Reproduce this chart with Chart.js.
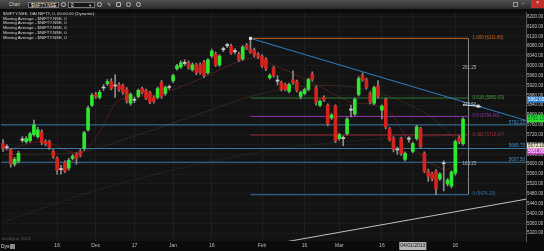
<!DOCTYPE html>
<html>
<head>
<meta charset="utf-8">
<script src="https://cdn.jsdelivr.net/npm/chart.js@4.4.1/dist/chart.umd.min.js"></script>
<style>
  html, body { margin: 0; padding: 0; width: 544px; height: 251px; overflow: hidden; background: #0b0b0b; font-family: "Liberation Sans", "DejaVu Sans", sans-serif; }
  #bar { position: absolute; left: 0; top: 0; width: 544px; height: 9px; background: linear-gradient(#505050, #2a2a2a); }
  #bar div, #bar span { position: absolute; font-size: 4.5px; line-height: 6px; color: #d0d0d0; }
  .box { top: 1.5px; height: 6px; background: #161616; border: 1px solid #777; box-sizing: border-box; padding-left: 2px; color: #fff !important; }
  .ico { top: 2px; width: 5px; height: 5px; border: 1px solid #bbb; border-radius: 50%; box-sizing: border-box; }
  #wrap { position: absolute; left: 0; top: 9px; width: 544px; height: 242px; }
  #legend { position: absolute; left: 3px; top: 12px; font-size: 4.3px; line-height: 4.7px; color: #d8d8d8; white-space: pre; }
  #dys { position: absolute; left: 1px; top: 243px; font-size: 5px; line-height: 7px; color: #ddd; }
  #dysbox { position: absolute; left: 10px; top: 244px; width: 5px; height: 5px; background: #8a8a8a; }
  #mark { position: absolute; left: 2px; top: 236px; font-size: 4px; color: #5a5a5a; }
</style>
</head>
<body>
<div id="bar">
  <span style="left:9px;top:1.5px">Chart</span>
  <div class="box" style="left:28px;width:31px">$NIFTY.NSE</div>
  <div class="ico" style="left:61px"></div>
  <div class="box" style="left:68px;width:27px">0 <span style="left:20px;top:0">▾</span></div>
  <div class="ico" style="left:97px"></div>
  <span style="left:107px;top:1.5px">✎</span>
  <div class="ico" style="left:116px;border-radius:1px"></div>
  <div class="ico" style="left:126px"></div>
  <div class="ico" style="left:136px"></div>
  <div style="left:513px;top:2px;width:5px;height:5px;border:1px solid #999;box-sizing:border-box"></div>
  <span style="left:522px;top:1px">–</span>
  <div style="left:531px;top:0;width:13px;height:8px;background:#c0302a;color:#fff;text-align:center">×</div>
</div>
<div id="wrap"><canvas id="c" width="544" height="242"></canvas></div>
<div id="legend">$NIFTY.NSE, DAI NIFTY, 0, 00:00:00 (Dynamic)
Moving Average - $NIFTY.NSE, 0
Moving Average - $NIFTY.NSE, 0
Moving Average - $NIFTY.NSE, 0
Moving Average - $NIFTY.NSE, 0
Moving Average - $NIFTY.NSE, 0</div>
<div id="mark">Intelligent, 2013</div>
<div id="dys">Dys</div>
<div id="dysbox"></div>
<script>
// daily candles
var opens  = [5684,5668,5660,5600,5612,5700,5692,5696,5720,5712,5732,5692,5692,5652,5624,5580,5608,5584,5624,5640,
              5652,5664,5740,5840,5884,5872,5912,5928,5936,5920,5924,5920,5904,5848,5862,5876,5908,5900,5892,5872,
              5872,5932,5888,5912,5940,5988,5996,6012,6012,5984,6004,6004,6016,5972,6040,6048,6004,6068,6084,6080,
              6060,6048,6028,6084,6068,6064,6048,6040,6028,5952,5992,5940,5932,5924,5896,5944,5936,5876,5888,5904,
              5968,5912,5840,5872,5840,5788,5836,5704,5704,5724,5820,5804,5884,5960,5944,5888,5848,5920,5820,5864,
              5744,5704,5660,5704,5620,5704,5652,5704,5744,5644,5572,5560,5572,5540,5604,5520,5512,5564,5708,5684];
var highs  = [5700,5680,5664,5628,5652,5712,5712,5730,5780,5750,5740,5700,5698,5660,5630,5596,5614,5624,5640,5646,
              5660,5734,5836,5888,5892,5900,5924,5944,5948,5964,5932,5926,5912,5890,5872,5906,5914,5906,5896,5878,
              5914,5940,5918,5922,5966,6006,6020,6024,6020,6012,6010,6012,6022,6030,6068,6056,6046,6076,6092,6088,
              6070,6056,6082,6092,6111.8,6072,6054,6046,6034,5968,5998,5960,5938,5930,5930,5980,5942,5898,5910,5950,
              5976,5918,5862,5878,5846,5806,5842,5726,5714,5790,5840,5870,5956,5972,5950,5894,5918,5940,5842,5870,
              5750,5712,5670,5710,5650,5712,5690,5758,5750,5650,5580,5568,5578,5566,5614,5542,5574,5698,5716,5790];
var lows   = [5652,5660,5588,5592,5604,5690,5686,5690,5714,5706,5680,5676,5660,5624,5560,5560,5566,5576,5618,5600,
              5630,5656,5734,5834,5868,5866,5900,5920,5902,5872,5896,5884,5848,5840,5850,5870,5886,5862,5846,5848,
              5866,5868,5880,5904,5932,5982,5990,6002,5986,5978,5964,5966,5952,5966,6034,5998,5998,6058,6074,6046,
              6048,6018,6022,6066,6050,6036,6030,5994,5980,5946,5954,5922,5898,5898,5890,5924,5894,5866,5882,5898,
              5938,5840,5834,5854,5756,5782,5688,5698,5676,5718,5792,5798,5878,5938,5906,5846,5842,5870,5784,5744,
              5694,5650,5640,5636,5614,5690,5646,5698,5664,5566,5530,5532,5476.2,5534,5492,5512,5504,5556,5684,5678];
var closes = [5664,5670,5600,5620,5644,5698,5704,5724,5760,5740,5688,5684,5668,5632,5576,5578,5572,5616,5632,5624,
              5636,5728,5828,5880,5876,5892,5910,5936,5908,5918,5904,5892,5856,5884,5860,5900,5892,5868,5852,5856,
              5908,5876,5912,5914,5960,6000,6012,6010,5992,6004,5972,5972,5960,6024,6060,6004,6040,6066,6082,6052,
              6058,6024,6076,6072,6056,6044,6036,6000,5988,5960,5960,5938,5904,5904,5924,5932,5900,5892,5904,5944,
              5944,5852,5856,5860,5764,5800,5696,5720,5706,5784,5822,5864,5948,5944,5912,5852,5912,5876,5836,5752,
              5700,5660,5658,5644,5644,5702,5684,5752,5672,5572,5552,5540,5500,5560,5602,5536,5568,5692,5692,5784];

// x axis (candle index) ticks
var xTickPos    = [14, 24, 34, 44, 54, 67, 78, 87, 98, 106, 117];
var xTickLabels = ['16', 'Dec', '17', 'Jan', '16', 'Feb', '16', 'Mar', '16', '04/01/2013', '16'];
var yTicks = [];
for (var t = 5320; t <= 6200; t += 40) yTicks.push(t);

// moving averages (sparse)
var ma1X = [0, 10, 20, 25, 30, 40, 50, 60, 65, 70, 80, 90, 95, 100, 105, 110, 115, 119];
var ma1Y = [5652, 5692, 5644, 5732, 5860, 5884, 5940, 6012, 6032, 6004, 5932, 5852, 5844, 5812, 5692, 5612, 5580, 5652];
var ma2X = [0, 20, 35, 50, 65, 80, 95, 110, 119];
var ma2Y = [5640, 5650, 5720, 5800, 5880, 5920, 5900, 5800, 5672];
var ma3X = [0, 22, 45, 70, 95, 119];
var ma3Y = [5364, 5484, 5580, 5660, 5700, 5720];

// drawn tools
var supportLevels = [5760, 5664, 5608];
var supportLabels = ['5762.25', '5665.75', '5607.50'];
var fibLevels = [6111.8, 5869.03, 5794.0, 5718.97, 5476.2];
var fibLabels = ['1.000 (6111.80)', '0.618 (5869.03)', '0.5 (5794.00)', '0.382 (5718.97)', '0 (5476.20)'];
var fibColors = ['#c8661e', '#2f7a2f', '#8a30a8', '#a02a3c', '#2f74b0'];
var fibStart = 64, fibEnd = 120.4;
var downTrendX = [64, 135.3], downTrendY = [6111.8, 5778];
var upTrendX = [71.5, 135.3], upTrendY = [5280, 5458];
var noteValues = [5992, 5840, 5600];
var noteLabels = ['261.25', '275.50', '163.25'];
var tagValues = [5862.6, 5789.8, 5783.1, 5673.1, 5651.8];
var tagLabels = ['5862.60', '5789.80', '5783.10', '5673.10', '5651.80'];
var tagColors = ['#2a7fd4', '#2ee02e', '#2ee02e', '#ece4c4', '#c845c8'];
var tagText   = ['#fff', '#063', '#063', '#222', '#fff'];

var idx = opens.map(function (o, i) { return i; });
var bodyColors = opens.map(function (o, i) {
  var d = closes[i] - o;
  if (Math.abs(d) <= 2) return '#d0d0d0';
  return d > 0 ? '#2ee82e' : '#d8221e';
});
function pts(xs, ys) { return xs.map(function (x, i) { return {x: x, y: ys[i]}; }); }
function lineDs(data, color, width, order) {
  return {type: 'line', data: data, borderColor: color, borderWidth: width || 1, pointRadius: 0, order: order || 5, tension: 0.3};
}

var datasets = [
  {type: 'bar', data: idx.map(function (i) { return {x: i, y: [opens[i], closes[i]]}; }),
   backgroundColor: bodyColors, barThickness: 3, minBarLength: 1, grouped: false, order: 0},
  {type: 'bar', data: idx.map(function (i) { return {x: i, y: [lows[i], highs[i]]}; }),
   backgroundColor: '#8c8c8c', barThickness: 1, grouped: false, order: 1},
  lineDs(pts(ma1X, ma1Y), 'rgba(110,40,40,0.6)', 1, 6),
  lineDs(pts(ma2X, ma2Y), 'rgba(90,70,40,0.4)', 1, 6),
  lineDs(pts(ma3X, ma3Y), 'rgba(60,70,60,0.3)', 1, 6)
];
supportLevels.forEach(function (v) {
  datasets.push(lineDs([{x: -1, y: v}, {x: 136, y: v}], '#3a7aa6', 1, 4));
});
fibLevels.forEach(function (v, k) {
  datasets.push(lineDs([{x: fibStart, y: v}, {x: fibEnd, y: v}], fibColors[k], 1, 4));
});
datasets.push(lineDs([{x: fibEnd, y: fibLevels[0]}, {x: fibEnd, y: fibLevels[4]}], '#8a8a8a', 1, 4));
datasets.push(lineDs(pts(downTrendX, downTrendY), '#2f80c8', 1, 3));
datasets.push(lineDs(pts(upTrendX, upTrendY), '#b8c4d0', 1, 3));

var decor = {
  id: 'decor',
  beforeDraw: function (chart) {
    var c = chart.ctx, a = chart.chartArea;
    c.save();
    c.fillStyle = '#0b0b0b';
    c.fillRect(0, 0, chart.width, chart.height);
    c.fillStyle = '#131313';
    c.fillRect(a.left, a.top, a.right - a.left, a.bottom - a.top);
    c.restore();
  },
  afterDatasetsDraw: function (chart) {
    var c = chart.ctx, x = chart.scales.x, y = chart.scales.y, a = chart.chartArea;
    c.save();
    c.font = '4.5px "Liberation Sans"';
    c.textBaseline = 'middle';
    c.textAlign = 'left';
    fibLevels.forEach(function (v, k) {
      c.fillStyle = fibColors[k] === '#2f7a2f' ? '#3fa43f' : fibColors[k];
      c.fillText(fibLabels[k], x.getPixelForValue(fibEnd) + 4, y.getPixelForValue(v) - 0.5);
    });
    c.fillStyle = '#b8b8b8';
    noteValues.forEach(function (v, k) {
      c.fillText(noteLabels[k], x.getPixelForValue(fibEnd) - 6, y.getPixelForValue(v));
    });
    c.textAlign = 'right';
    c.fillStyle = '#3f8fd0';
    supportLevels.forEach(function (v, k) {
      c.fillText(supportLabels[k], a.right - 1, y.getPixelForValue(v) - 2.5);
    });
    // tool handles
    c.fillStyle = '#e0e0e0';
    var hx = x.getPixelForValue(downTrendX[0]), hy = y.getPixelForValue(downTrendY[0]);
    c.fillRect(hx - 1.5, hy - 1.5, 3, 3);
    var t = (122.9 - downTrendX[0]) / (downTrendX[1] - downTrendX[0]);
    var mv = downTrendY[0] + t * (downTrendY[1] - downTrendY[0]);
    var mx = x.getPixelForValue(122.9), my = y.getPixelForValue(mv);
    c.strokeStyle = '#e0e0e0';
    c.beginPath();
    c.moveTo(x.getPixelForValue(119), my - 1.5);
    c.lineTo(mx + 3, my + 0.5);
    c.stroke();
    c.fillRect(mx - 1.5, my - 1.5, 3, 3);
    c.restore();
  },
  afterDraw: function (chart) {
    var c = chart.ctx, y = chart.scales.y, a = chart.chartArea;
    c.save();
    c.font = '4.5px "Liberation Sans"';
    c.textBaseline = 'middle';
    c.textAlign = 'left';
    tagValues.forEach(function (v, k) {
      var py = y.getPixelForValue(v);
      c.fillStyle = tagColors[k];
      c.fillRect(a.right + 1, py - 3, chart.width - a.right - 1, 6);
      c.fillStyle = tagText[k];
      c.fillText(tagLabels[k], a.right + 2, py);
    });
    c.restore();
  }
};

new Chart(document.getElementById('c'), {
  data: {datasets: datasets},
  options: {
    responsive: false,
    animation: false,
    devicePixelRatio: 1,
    layout: {padding: {left: 1, top: 0, right: 0, bottom: 0}},
    plugins: {legend: {display: false}, tooltip: {enabled: false}},
    scales: {
      x: {
        type: 'linear', min: -0.52, max: 135.28, offset: false,
        grid: {color: '#1f1f1f', drawTicks: false, offset: false},
        border: {display: false},
        afterBuildTicks: function (s) { s.ticks = xTickPos.map(function (v) { return {value: v}; }); },
        afterFit: function (s) { s.height = 10; },
        ticks: {
          autoSkip: false, maxRotation: 0, padding: 2,
          font: {size: 5, family: 'Liberation Sans'},
          color: function (ctx) { return ctx.tick && ctx.tick.label === '04/01/2013' ? '#111' : '#bdbdbd'; },
          showLabelBackdrop: function (ctx) { return !!(ctx.tick && ctx.tick.label === '04/01/2013'); },
          backdropColor: '#b4b4b4',
          backdropPadding: 1,
          callback: function (v) { var k = xTickPos.indexOf(v); return k >= 0 ? xTickLabels[k] : ''; }
        }
      },
      y: {
        position: 'right', min: 5288, max: 6216,
        grid: {color: '#1b1b1b', drawTicks: false},
        border: {color: '#555'},
        afterBuildTicks: function (s) { s.ticks = yTicks.map(function (v) { return {value: v}; }); },
        afterFit: function (s) { s.width = 18; },
        ticks: {
          padding: 1,
          font: {size: 4.5, family: 'Liberation Sans'},
          color: '#c4c4c4',
          callback: function (v) { return v.toFixed(2); }
        }
      }
    }
  },
  plugins: [decor]
});
</script>
</body>
</html>
